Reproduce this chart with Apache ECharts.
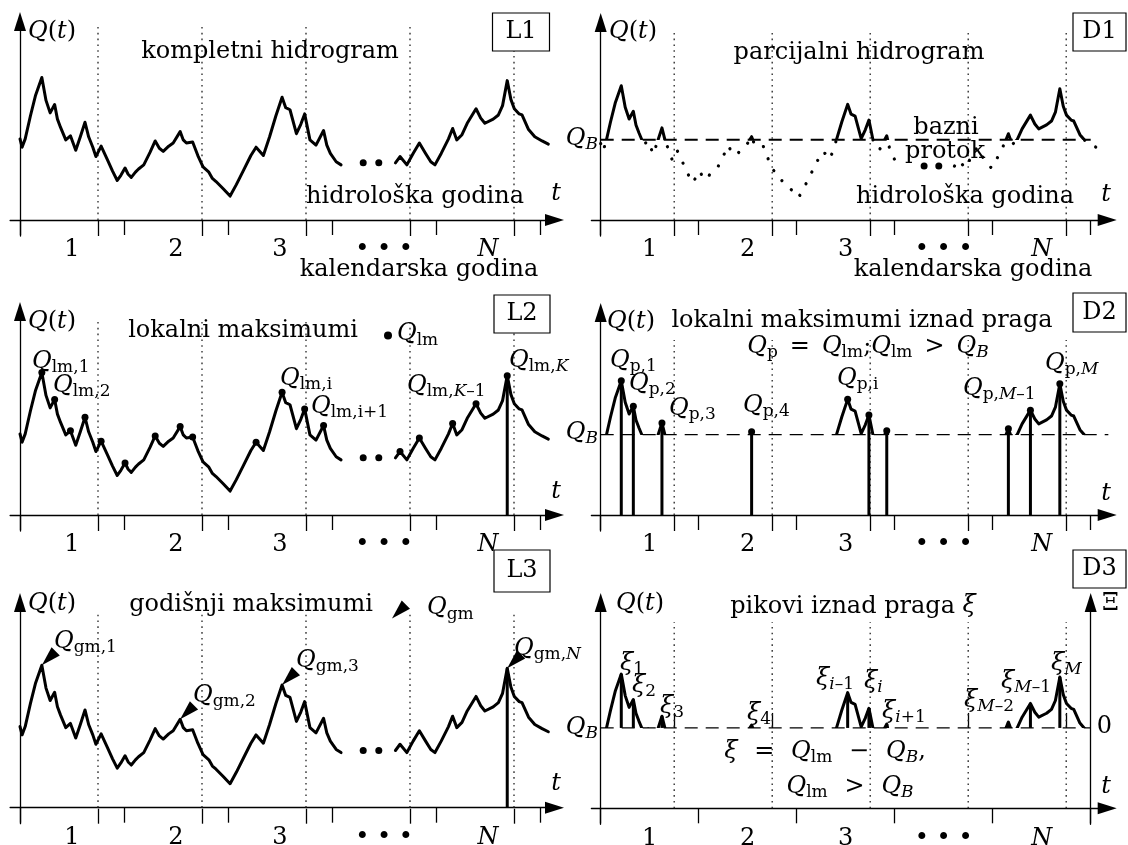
<!DOCTYPE html>
<html>
<head>
<meta charset="utf-8">
<script src="https://cdn.jsdelivr.net/npm/echarts@6/dist/echarts.min.js"></script>
<style>
  html, body { margin: 0; padding: 0; background: #fff; }
  #chart { width: 1128px; height: 845px; }
</style>
</head>
<body>
<div id="chart"></div>
<script>
// ---- hydrograph Q(t): t in years, Q in flow units ----
const seg1T = [0.00, 0.02, 0.05, 0.10, 0.15, 0.21, 0.25, 0.29, 0.333, 0.36, 0.39, 0.44, 0.485, 0.536, 0.58, 0.625, 0.66, 0.70, 0.73, 0.78, 0.84, 0.89, 0.935, 0.97, 1.01, 1.04, 1.07, 1.11, 1.14, 1.19, 1.25, 1.30, 1.34, 1.377, 1.43, 1.473, 1.54, 1.57, 1.60, 1.66, 1.71, 1.76, 1.816, 1.85, 1.885, 1.954, 2.02, 2.08, 2.15, 2.22, 2.27, 2.34, 2.40, 2.46, 2.52, 2.555, 2.596, 2.658, 2.70, 2.737, 2.788, 2.846, 2.919, 2.95, 2.984, 3.04, 3.087];
const seg1Q = [78, 70, 78, 100, 120, 137, 115, 103, 111, 97, 89, 77, 81, 67, 80, 94, 80, 70, 61, 71, 58, 47, 38, 43, 50, 44, 41, 46, 49, 53, 65, 76, 69, 66, 71, 74, 85, 77, 74, 75, 62, 51, 46, 40, 37, 30, 23, 34, 48, 62, 70, 62, 80, 100, 118, 108, 106, 83, 92, 102, 77, 72, 86, 72, 64, 56, 53];
const seg2T = [3.61, 3.654, 3.72, 3.78, 3.84, 3.90, 3.95, 3.99, 4.05, 4.12, 4.16, 4.20, 4.25, 4.30, 4.385, 4.43, 4.47, 4.55, 4.60, 4.64, 4.685, 4.72, 4.753, 4.80, 4.827, 4.89, 4.95, 5.02, 5.08];
const seg2Q = [55, 61, 53, 64, 74, 64, 56, 53, 64, 78, 88, 77, 82, 93, 107, 98, 93, 97, 101, 110, 134, 116, 107, 102, 101, 87, 80, 76, 73];

// "· ·" marks standing for the omitted years
const gapT = [3.30, 3.45];
const gapQ = [55, 55];

// base flow threshold
const QB = 82;

// calendar years (ticks + labels) and hydrological year boundaries
const calendarTicks = [0, 1, 2, 3, 4, 5];
const calendarLabelPos = [0.5, 1.5, 2.5, 3.5, 4.5];
const calendarLabels = ['1', '2', '3', '\u2022 \u2022 \u2022', 'N'];
const hydroYearBounds = [0.75, 1.75, 2.75, 3.75, 4.75];

// local maxima Q_lm
const lmT = [0.21, 0.333, 0.485, 0.625, 0.78, 1.01, 1.30, 1.54, 1.66, 2.27, 2.52, 2.737, 2.919, 3.654, 3.84, 4.16, 4.385, 4.685];
const lmQ = [137, 111, 81, 94, 71, 50, 76, 85, 75, 70, 118, 102, 86, 61, 74, 88, 107, 134];

// annual maxima Q_gm
const gmT = [0.21, 1.54, 2.52, 4.685];
const gmQ = [137, 85, 118, 134];

// peaks over threshold Q_p drawn as stems from the t axis
const pStemT = [0.21, 0.333, 0.625, 1.54, 2.737, 2.919, 4.16, 4.385, 4.685];
const pStemQ = [137, 111, 94, 85, 102, 86, 88, 107, 134];

// ---------------------------------------------------------------
const zip = (a, b) => a.map((v, i) => [v, b[i]]);
const curve = [zip(seg1T, seg1Q), zip(seg2T, seg2Q)];
const lmPts = zip(lmT, lmQ);
const overQB = lmPts.filter(p => p[1] > QB);

const FONT = 'DejaVu Serif';
const R = {
  i:  { fontFamily: FONT, fontStyle: 'italic', fontSize: 24, verticalAlign: 'bottom', padding: [0, 0, 3, 0], color: '#000' },
  n:  { fontFamily: FONT, fontSize: 24, verticalAlign: 'bottom', padding: [0, 0, 3, 0], color: '#000' },
  s:  { fontFamily: FONT, fontSize: 17, verticalAlign: 'bottom', color: '#000' },
  si: { fontFamily: FONT, fontStyle: 'italic', fontSize: 17, verticalAlign: 'bottom', color: '#000' },
  w:  { width: 12 }
};

// panel frames: t=0 pixel, px per year, Q=0 pixel, px per flow unit, arrow tips
const PANELS = [
  { x0: 20,    kx: 104, y0: 220,   ky: 1.04, xTip: 564,    yTip: 12,  dotTop: 23 },
  { x0: 600.7, kx: 98,  y0: 220,   ky: 0.98, xTip: 1116.7, yTip: 13,  dotTop: 33 },
  { x0: 20,    kx: 104, y0: 515,   ky: 1.04, xTip: 564,    yTip: 302, dotTop: 322 },
  { x0: 600.7, kx: 98,  y0: 515,   ky: 0.98, xTip: 1116.7, yTip: 303, dotTop: 340 },
  { x0: 20,    kx: 104, y0: 807.7, ky: 1.04, xTip: 564,    yTip: 593, dotTop: 612 },
  { x0: 600.7, kx: 98,  y0: 808.3, ky: 0.98, xTip: 1116.7, yTip: 593, dotTop: 622 }
];
const ARROW_W = 12, ARROW_L = 19, T_MIN = -0.095, BELOW = 16;
const AX = { color: '#000', width: 1.3 };

const grid = [], xAxis = [], yAxis = [];
PANELS.forEach((p, g) => {
  p.tMax = (p.xTip - ARROW_L / 2 - p.x0) / p.kx;
  p.qMax = (p.y0 - p.yTip - ARROW_L / 2) / p.ky;
  p.qMin = -BELOW / p.ky;
  grid.push({
    left: p.x0 + T_MIN * p.kx, width: (p.tMax - T_MIN) * p.kx,
    top: p.y0 - p.qMax * p.ky, height: (p.qMax - p.qMin) * p.ky,
    containLabel: false, outerBoundsMode: 'none'
  });
  xAxis.push({
    gridIndex: g, type: 'value', min: T_MIN, max: p.tMax, position: 'bottom',
    axisLine: { onZero: true, symbol: ['none', 'triangle'], symbolSize: [ARROW_W, ARROW_L], lineStyle: AX },
    axisTick: { show: true, inside: false, length: 15, customValues: calendarTicks, lineStyle: AX },
    axisLabel: {
      show: true, customValues: calendarLabelPos, margin: 2, rich: R,
      formatter: v => {
        const s = calendarLabels[calendarLabelPos.indexOf(v)];
        return s === 'N' ? '{i|N}' : '{n|' + s + '}';
      }
    },
    splitLine: { show: false }
  });
  xAxis.push({
    gridIndex: g, type: 'value', min: T_MIN, max: p.tMax, position: 'bottom',
    axisLine: { show: false, onZero: true },
    axisTick: { show: true, inside: true, length: 15, customValues: hydroYearBounds, lineStyle: AX },
    axisLabel: { show: false },
    splitLine: { show: false }
  });
  yAxis.push({
    gridIndex: g, type: 'value', min: p.qMin, max: p.qMax,
    axisLine: { onZero: true, symbol: ['none', 'triangle'], symbolSize: [ARROW_W, ARROW_L], lineStyle: AX },
    axisTick: { show: false }, axisLabel: { show: false }, splitLine: { show: false }
  });
});
// Xi axis of the peaks-over-threshold panel (0 at Q_B, placed at t = 5)
const P5 = PANELS[5];
yAxis.push({
  gridIndex: 5, type: 'value', position: 'right', offset: -(P5.tMax - 5) * P5.kx,
  min: P5.qMin - QB, max: P5.qMax - QB,
  axisLine: { show: true, onZero: false, symbol: ['none', 'triangle'], symbolSize: [ARROW_W, ARROW_L], lineStyle: AX },
  axisTick: { show: false },
  axisLabel: { show: true, customValues: [0], margin: 6, rich: R, formatter: () => '{n|0}' },
  splitLine: { show: false }
});

// ---------------------------------------------------------------
const series = [];
const solidClip = [], dottedClip = [];
const add = s => { series.push(Object.assign({ silent: true, animation: false }, s)); return series.length - 1; };
const ax = g => ({ xAxisIndex: 2 * g, yAxisIndex: g });

// collector != null: the stroke colour comes from a visualMap (threshold clipping)
function curveLines(g, lineStyle, collector) {
  curve.forEach(seg => {
    const base = { width: 3, join: 'round', cap: 'round' };
    if (!collector) base.color = '#000';
    const idx = add(Object.assign(ax(g), {
      type: 'line', data: seg, symbol: 'none', showSymbol: false, z: 3,
      lineStyle: Object.assign(base, lineStyle)
    }));
    if (collector) collector.push(idx);
  });
}
function stems(g, data, width) {
  add(Object.assign(ax(g), {
    type: 'custom', data, z: 4,
    encode: { x: 0, y: [1, 2] },
    renderItem: (params, api) => {
      const a = api.coord([api.value(0), api.value(1)]);
      const b = api.coord([api.value(0), api.value(2)]);
      return { type: 'line', shape: { x1: a[0], y1: a[1], x2: b[0], y2: b[1] },
        style: { stroke: '#000', lineWidth: width || 3, lineCap: 'butt' } };
    }
  }));
}
function yearBounds(g) {
  const top = PANELS[g].dotTop;
  add(Object.assign(ax(g), {
    type: 'custom', data: hydroYearBounds.map(t => [t, 0]), z: 1,
    renderItem: (params, api) => {
      const b = api.coord([api.value(0), 0]);
      return { type: 'line', shape: { x1: b[0], y1: b[1], x2: b[0], y2: top },
        style: { stroke: '#222', lineWidth: 1.3, lineDash: [1.6, 4.2] } };
    }
  }));
}
function qbLine(g, tEnd, width, dash) {
  add(Object.assign(ax(g), {
    type: 'custom', data: [[0, QB, tEnd]], z: 2,
    renderItem: (params, api) => {
      const a = api.coord([api.value(0), api.value(1)]);
      const b = api.coord([api.value(2), api.value(1)]);
      return { type: 'line', shape: { x1: a[0], y1: a[1], x2: b[0], y2: b[1] },
        style: { stroke: '#000', lineWidth: width, lineDash: dash } };
    }
  }));
}
function dots(g, data, size, name, symbol, extra) {
  add(Object.assign(ax(g), {
    type: 'scatter', name, data, symbol: symbol || 'circle', symbolSize: size, z: 5,
    itemStyle: { color: '#000', opacity: 1 }
  }, extra || {}));
}

PANELS.forEach((p, g) => yearBounds(g));

// L1: complete hydrograph
curveLines(0);
dots(0, zip(gapT, gapQ), 7);

// D1: partial hydrograph above the base flow, the rest dotted
qbLine(1, 5.0, 2, [13, 8]);
curveLines(1, {}, solidClip);
curveLines(1, { width: 3.2, type: [0.1, 13], cap: 'round' }, dottedClip);
dots(1, zip(gapT, gapQ), 7);

// L2: local maxima
curveLines(2);
dots(2, zip(gapT, gapQ), 7);
stems(2, [[lmT[lmT.length - 1], 0, lmQ[lmQ.length - 1]]], 3);
dots(2, lmPts, 7, 'Q_lm');

// D2: local maxima above threshold
qbLine(3, 5.18, 1.3, [13, 8]);
curveLines(3, {}, solidClip);
stems(3, pStemT.map((t, i) => [t, 0, pStemQ[i]]), 3);
dots(3, overQB, 7);

// L3: annual maxima
const TRI = 'path://M0,18.3L9.9,0L18.3,8.4Z';
curveLines(4);
dots(4, zip(gapT, gapQ), 7);
stems(4, [[gmT[gmT.length - 1], 0, gmQ[gmQ.length - 1]]], 3);
dots(4, zip(gmT, gmQ), [18, 18], 'Q_gm', TRI, { symbolOffset: [9, -9], symbolKeepAspect: true, z: 6 });

// D3: peaks over threshold
qbLine(5, 5.0, 1.3, [13, 8]);
curveLines(5, {}, solidClip);
stems(5, overQB.map(p => [p[0], QB, p[1]]), 3);

// ---------------------------------------------------------------
function txt(x, y, text, align, extra) {
  return {
    type: 'text', x, y, z: 101, silent: true,
    style: Object.assign({
      text, rich: R, fill: '#000', fontFamily: FONT, fontSize: 24,
      align: align || 'left', textAlign: align || 'left',
      verticalAlign: 'middle', textVerticalAlign: 'middle'
    }, extra || {})
  };
}
function box(x, y, w, h, label) {
  return [
    { type: 'rect', z: 100, silent: true, shape: { x, y, width: w, height: h },
      style: { fill: '#fff', stroke: '#000', lineWidth: 1.2 } },
    txt(x + w / 2, y + h / 2, label, 'center')
  ];
}
const QT = '{i|Q}{n|(}{i|t}{n|)}';
const QBL = '{i|Q}{si|B}';
const SP = '\u2002';            // operator spacing
const SPW = '\u2002\u2009';     // wider operator spacing

const graphics = [
  // L1
  txt(28, 33, QT), txt(270, 52, 'kompletni hidrogram', 'center'),
  txt(415, 197, 'hidrološka godina', 'center'), txt(556, 195, '{i|t}', 'center'),
  txt(419, 270, 'kalendarska godina', 'center'),
  ...box(492.5, 13, 57, 38, 'L1'),
  // D1
  txt(609, 33, QT), txt(859, 53, 'parcijalni hidrogram', 'center'),
  txt(598, 140, QBL, 'right'),
  txt(946, 128, 'bazni', 'center'), txt(945, 152, 'protok', 'center'),
  txt(965, 197, 'hidrološka godina', 'center'), txt(1106, 196, '{i|t}', 'center'),
  txt(973, 270, 'kalendarska godina', 'center'),
  ...box(1073, 13, 53, 38, 'D1'),
  // L2
  txt(28, 323, QT), txt(243, 331, 'lokalni maksimumi', 'center'),
  ...box(494, 295, 56, 38, 'L2'),
  txt(32, 363, '{i|Q}{s|lm,1}'), txt(53, 387, '{i|Q}{s|lm,2}'),
  txt(280, 380, '{i|Q}{s|lm,i}'), txt(311, 408, '{i|Q}{s|lm,i+1}'),
  txt(407, 387, '{i|Q}{s|lm,}{si|K}{s|\u20131}'), txt(509, 362, '{i|Q}{s|lm,}{si|K}'),
  txt(556, 493, '{i|t}', 'center'),
  // D2
  txt(607, 323, QT), txt(862, 321, 'lokalni maksimumi iznad praga', 'center'),
  ...box(1073, 293, 53, 39, 'D2'),
  txt(868, 348, '{i|Q}{s|p}{n|' + SP + '=' + SP + '}{i|Q}{s|lm}{n|;}{i|Q}{s|lm}{n|' + SP + '>' + SP + '}{i|Q}{si|B}', 'center'),
  txt(610, 362, '{i|Q}{s|p,1}'), txt(629, 385, '{i|Q}{s|p,2}'), txt(669, 410, '{i|Q}{s|p,3}'),
  txt(743, 407, '{i|Q}{s|p,4}'), txt(837, 380, '{i|Q}{s|p,i}'),
  txt(963, 390, '{i|Q}{s|p,}{si|M}{s|\u20131}'), txt(1045, 365, '{i|Q}{s|p,}{si|M}'),
  txt(598, 434, QBL, 'right'), txt(1106, 495, '{i|t}', 'center'),
  // L3
  txt(28, 605, QT), txt(251, 605, 'godišnji maksimumi', 'center'),
  ...box(494, 550, 56, 42, 'L3'),
  txt(54, 643, '{i|Q}{s|gm,1}'), txt(193, 697, '{i|Q}{s|gm,2}'),
  txt(296, 662, '{i|Q}{s|gm,3}'), txt(514, 650, '{i|Q}{s|gm,}{si|N}'),
  txt(556, 785, '{i|t}', 'center'),
  // D3
  txt(616, 605, QT), txt(853, 607, 'pikovi iznad praga {i|ξ}', 'center'),
  ...box(1073, 550, 53, 38, 'D3'),
  txt(1102, 605, '{n|Ξ}'), txt(1106, 788, '{i|t}', 'center'),
  txt(598, 729, QBL, 'right'),
  txt(620, 665, '{i|ξ}{s|1}'), txt(632, 687, '{i|ξ}{s|2}'), txt(660, 708, '{i|ξ}{s|3}'),
  txt(747, 715, '{i|ξ}{s|4}'), txt(816, 680, '{i|ξ}{si|i}{s|\u20131}'), txt(864, 683, '{i|ξ}{si|i}'),
  txt(882, 713, '{i|ξ}{si|i}{s|+1}'), txt(964, 702, '{i|ξ}{si|M}{s|\u20132}'),
  txt(1001, 683, '{i|ξ}{si|M}{s|\u20131}'), txt(1051, 665, '{i|ξ}{si|M}'),
  txt(825, 753, '{i|ξ}{n|' + SPW + '=' + SPW + '}{i|Q}{s|lm}{n|' + SPW + '\u2212' + SPW + '}{i|Q}{si|B}{n|,}', 'center'),
  txt(850, 788, '{i|Q}{s|lm}{n|' + SPW + '>' + SPW + '}{i|Q}{si|B}', 'center')
];

const chart = echarts.init(document.getElementById('chart'), null, { renderer: 'canvas' });
chart.setOption({
  animation: false,
  backgroundColor: '#fff',
  textStyle: { fontFamily: FONT, color: '#000' },
  grid, xAxis, yAxis, series,
  legend: [
    { data: ['Q_lm'], left: 384, top: 322, itemWidth: 8, itemHeight: 8, padding: 0, selectedMode: false,
      formatter: () => '{i|Q}{s|lm}', textStyle: { rich: R } },
    { data: ['Q_gm'], left: 392, top: 596, itemWidth: 18, itemHeight: 18, padding: 0, selectedMode: false,
      formatter: () => '{w|}{i|Q}{s|gm}', textStyle: { rich: R } }
  ],
  visualMap: [
    { type: 'piecewise', show: false, dimension: 1, seriesIndex: solidClip,
      pieces: [{ gte: -1000, lte: QB, color: 'rgba(0,0,0,0)' }, { gt: QB, lte: 1000, color: '#000' }] },
    { type: 'piecewise', show: false, dimension: 1, seriesIndex: dottedClip,
      pieces: [{ gte: -1000, lte: QB, color: '#000' }, { gt: QB, lte: 1000, color: 'rgba(0,0,0,0)' }] }
  ],
  graphic: graphics
});
</script>
</body>
</html>
